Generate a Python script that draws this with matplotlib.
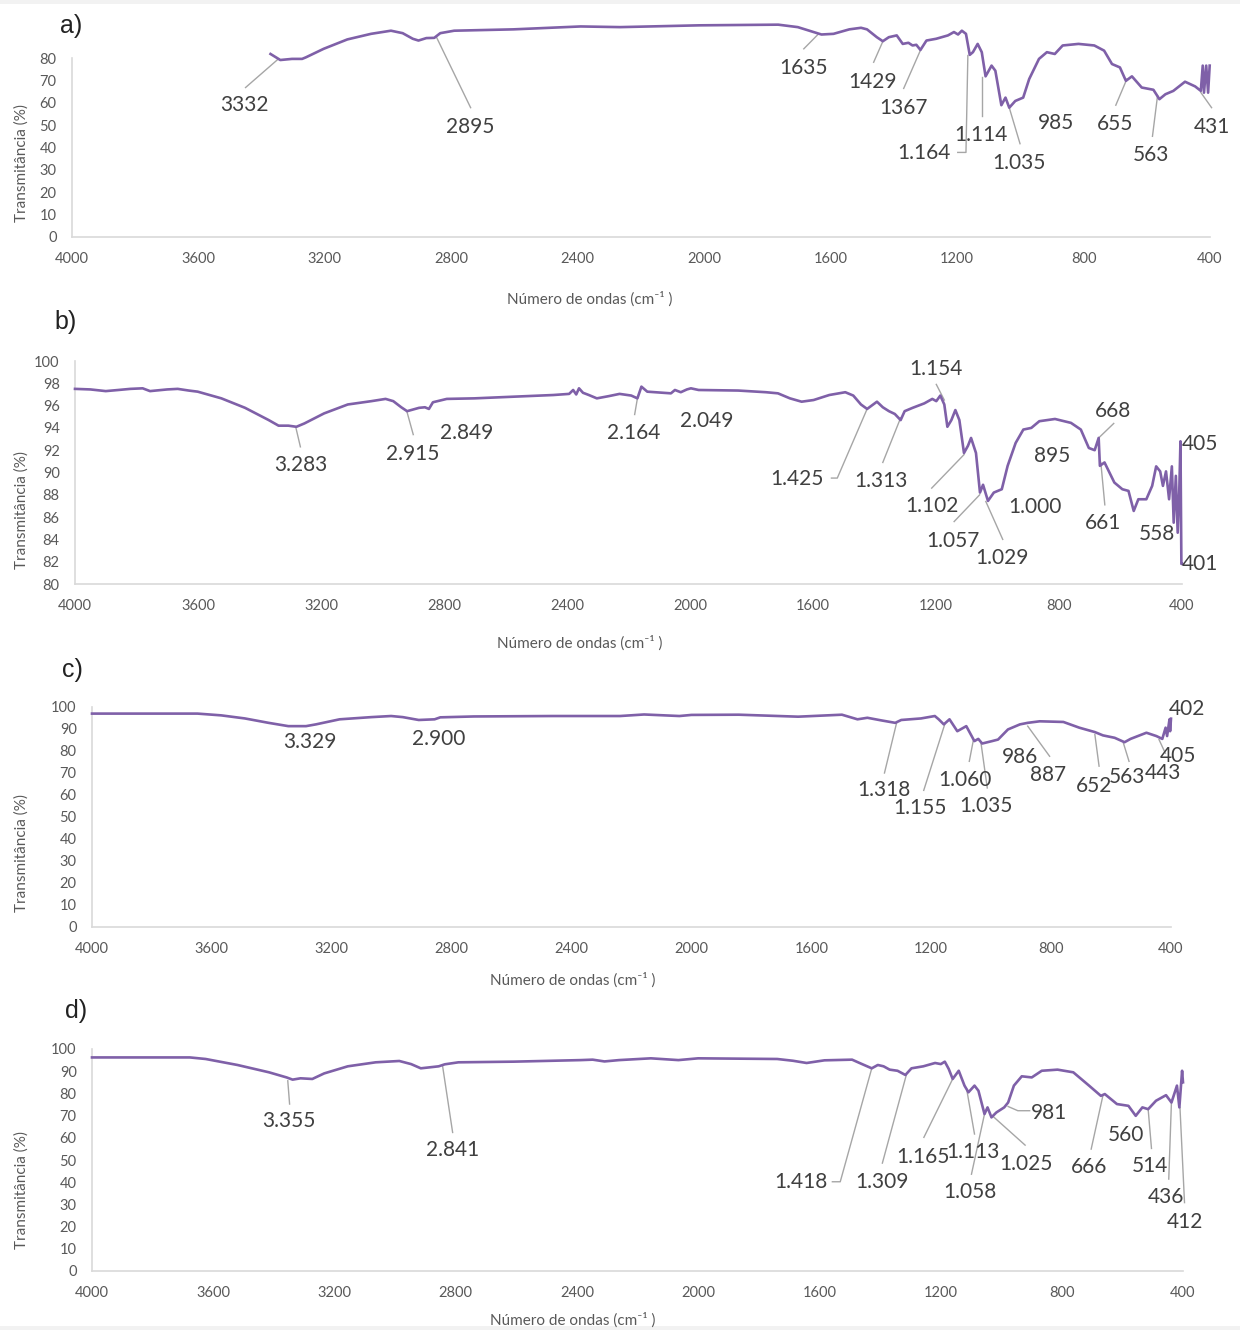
''' espectros FTIR - transmitancia x numero de ondas (paineis a-d) '''

import matplotlib
matplotlib.use('Agg')
import matplotlib.pyplot as plt
from matplotlib.patches import Rectangle

# ---------------- dados ----------------
wn_a = [3372, 3341, 3304, 3272, 3260, 3204, 3129, 3054, 2991, 2954, 2922, 2904, 2879, 2854, 2835,
        2791, 2604, 2391, 2266, 2016, 1766, 1704, 1654, 1629, 1591, 1541, 1504, 1485, 1454, 1435,
        1416, 1391, 1372, 1354, 1341, 1329, 1316, 1297, 1266, 1229, 1210, 1197, 1185, 1172, 1160,
        1150, 1135, 1122, 1110, 1091, 1079, 1060, 1047, 1035, 1016, 991, 972, 941, 916, 891, 866,
        816, 766, 735, 710, 685, 666, 647, 616, 579, 560, 541, 516, 479, 447, 429, 423, 419, 412,
        406, 401]
t_a = [81.8, 79.1, 79.6, 79.6, 80.3, 84.1, 88.3, 90.8, 92.2, 91.1, 88.6, 87.8, 88.9, 89.0, 91.1,
       92.2, 92.8, 94.1, 93.8, 94.6, 94.9, 93.8, 91.6, 90.5, 90.8, 92.8, 93.5, 92.8, 89.3, 87.5,
       89.3, 90.1, 86.3, 86.8, 85.6, 85.9, 83.6, 87.8, 88.6, 90.1, 91.6, 90.5, 92.2, 90.8, 81.4,
       82.6, 86.3, 82.6, 71.8, 76.6, 74.3, 58.9, 62.3, 57.8, 60.8, 62.3, 70.6, 79.6, 82.6, 81.8, 85.6,
       86.3, 85.6, 83.3, 77.3, 75.8, 69.8, 71.8, 66.8, 65.8, 61.6, 63.8, 65.3, 69.4, 67.3, 65.3, 76.6,
       64.5, 76.6, 64.5, 76.6]

wn_b = [4000, 3950, 3900, 3859, 3820, 3780, 3756, 3700, 3666, 3630, 3601, 3524, 3447, 3370, 3338,
        3306, 3280, 3254, 3190, 3113, 3036, 2990, 2965, 2939, 2920, 2907, 2881, 2862, 2849, 2836,
        2791, 2701, 2573, 2444, 2393, 2380, 2370, 2361, 2348, 2329, 2303, 2264, 2229, 2191, 2171,
        2158, 2139, 2062, 2049, 2030, 2010, 1997, 1972, 1843, 1753, 1714, 1675, 1637, 1598, 1547,
        1495, 1469, 1444, 1424, 1392, 1373, 1353, 1334, 1315, 1302, 1276, 1238, 1212, 1199, 1186,
        1173, 1163, 1150, 1137, 1124, 1109, 1096, 1086, 1070, 1057, 1047, 1031, 1012, 986, 967, 941,
        916, 890, 864, 813, 761, 729, 703, 684, 671, 667, 652, 620, 594, 574, 557, 542, 516, 497,
        484, 471, 462, 452, 442, 433, 427, 420, 414, 409, 405, 402, 400.5]
t_b = [97.5, 97.45, 97.3, 97.4, 97.5, 97.55, 97.3, 97.45, 97.5, 97.35, 97.25, 96.65, 95.8, 94.7, 94.2,
       94.2, 94.1, 94.4, 95.3, 96.1, 96.4, 96.6, 96.4, 95.85, 95.5, 95.6, 95.8, 95.85, 95.7, 96.3,
       96.6, 96.65, 96.8, 96.95, 97.05, 97.4, 97.0, 97.55, 97.15, 96.95, 96.65, 96.85, 97.05, 96.9, 96.65,
       97.7, 97.25, 97.1, 97.4, 97.2, 97.45, 97.55, 97.4, 97.35, 97.2, 97.1, 96.65, 96.35, 96.5, 96.95,
       97.2, 96.9, 96.1, 95.7, 96.35, 95.85, 95.5, 95.25, 94.7, 95.5, 95.8, 96.2, 96.6, 96.4, 96.9,
       96.1, 94.1, 94.7, 95.6, 94.7, 91.75, 92.4, 93.1, 91.75, 88.2, 88.9, 87.45, 88.2, 88.5, 90.6, 92.65,
       93.85, 94.0, 94.6, 94.8, 94.45, 93.85, 92.2, 92.0, 93.1, 90.6, 90.9, 89.1, 88.5, 88.35, 86.55, 87.6, 87.6, 88.8,
       90.55, 90.1, 88.8, 90.1, 87.6, 90.55, 85.5, 89.7, 84.6, 88.2, 92.8, 81.8, 81.8]

wn_c = [4000, 3780, 3648, 3569, 3490, 3411, 3345, 3286, 3253, 3174, 3068, 3002, 2963, 2910, 2857,
        2838, 2726, 2462, 2238, 2158, 2040, 2000, 1842, 1644, 1498, 1446, 1413, 1366, 1320, 1300,
        1234, 1188, 1175, 1158, 1139, 1113, 1083, 1056, 1043, 1030, 997, 977, 944, 904, 878, 838,
        759, 706, 654, 627, 588, 555, 535, 482, 449, 429, 418, 413, 405, 403, 400]
t_c = [97.0, 97.0, 97.0, 96.2, 94.8, 92.8, 91.3, 91.3, 92.1, 94.4, 95.4, 95.9, 95.4, 94.1, 94.4,
       95.3, 95.7, 95.9, 95.9, 96.6, 95.9, 96.4, 96.5, 95.6, 96.5, 94.4, 95.1, 93.9, 92.8, 94.1,
       94.8, 95.9, 94.4, 92.1, 94.4, 89.0, 91.3, 84.5, 85.5, 83.4, 84.5, 85.2, 89.8, 92.1, 92.8, 93.5,
       93.2, 90.6, 88.6, 87.1, 86.0, 84.0, 85.5, 88.3, 86.8, 85.5, 90.6, 86.8, 94.4, 89.0, 94.7]

wn_d = [4000, 3677, 3625, 3520, 3416, 3358, 3338, 3312, 3273, 3234, 3156, 3064, 2986, 2947, 2915,
        2895, 2856, 2836, 2791, 2608, 2387, 2348, 2309, 2261, 2156, 2065, 2000, 1739, 1687, 1642,
        1583, 1492, 1459, 1427, 1407, 1388, 1368, 1342, 1316, 1296, 1257, 1218, 1199, 1186, 1173,
        1160, 1140, 1121, 1108, 1088, 1075, 1055, 1045, 1032, 1016, 990, 977, 958, 932, 899, 866,
        814, 762, 710, 671, 658, 618, 580, 556, 534, 515, 489, 456, 438, 420, 412, 403, 400]
t_d = [96.2, 96.2, 95.5, 92.8, 89.5, 87.2, 86.2, 86.8, 86.5, 89.0, 92.2, 94.0, 94.6, 93.2, 91.3,
       91.6, 92.2, 93.1, 94.0, 94.3, 95.0, 95.2, 94.4, 95.0, 95.8, 95.0, 95.8, 95.5, 94.7, 93.7,
       94.9, 95.2, 93.2, 91.3, 92.8, 92.2, 90.7, 90.2, 88.3, 91.3, 92.2, 93.7, 93.2, 94.3, 91.0,
       86.5, 90.2, 83.5, 80.5, 83.5, 81.2, 70.7, 73.7, 69.2, 71.4, 73.7, 75.9, 83.5, 87.7, 87.2, 90.2,
       90.7, 89.5, 83.5, 78.9, 79.7, 75.2, 74.4, 69.9, 73.7, 72.9, 76.7, 79.2, 75.9, 83.5, 73.7, 90.2, 85.0]

# bandas identificadas
picos_a = ['3332', '2895', '1635', '1429', '1367', '1.164', '1.114', '1.035', '985', '655', '563', '431']
picos_b = ['3.283', '2.915', '2.849', '2.164', '2.049', '1.425', '1.313', '1.154', '1.102', '1.057',
           '1.029', '1.000', '895', '668', '661', '558', '405', '401']
picos_c = ['3.329', '2.900', '1.318', '1.155', '1.060', '1.035', '986', '887', '652', '563', '443', '405', '402']
picos_d = ['3.355', '2.841', '1.418', '1.309', '1.165', '1.113', '1.058', '1.025', '981', '666', '560',
           '514', '436', '412']

yticks_a = list(range(0, 81, 10))
yticks_b = list(range(80, 101, 2))
yticks_c = list(range(0, 101, 10))
yticks_d = list(range(0, 101, 10))
xticks = [4000, 3600, 3200, 2800, 2400, 2000, 1600, 1200, 800, 400]

# ---------------- posicao dos rotulos (x, y) e linhas guia ----------------
pos_a = [(3456, 58.8), (2740, 49.1), (1686, 75.5), (1467, 69.4), (1370, 57.6), (1305, 37.7),
         (1123, 45.4), (1003, 33.2), (888, 50.9), (700, 50.7), (587, 36.7), (395, 49.1)]
guia_a = [[(3347, 79.6), (3451, 66.8)], [(2847, 89.3), (2739, 57.8)], [(1641, 90.4), (1685, 84.1)],
          [(1435, 87.4), (1464, 78.1)], [(1314, 84.1), (1369, 66.4)],
          [(1166, 81.1), (1172, 37.8), (1198, 37.8)], [(1120, 71.3), (1120, 54)],
          [(1035, 57.8), (1001, 41.7)], None, [(663, 70.6), (698, 58.9)], [(566, 63.1), (582, 45)],
          [(429, 64.6), (395, 57.8)]]

pos_b = [(3267, 90.7), (2903, 91.7), (2727, 93.5), (2182, 93.5), (1947, 94.6), (1651, 89.4),
         (1379, 89.2), (1200, 99.3), (1214, 87.0), (1145, 83.9), (985, 82.3), (877, 86.9),
         (821, 91.5), (623, 95.5), (656, 85.5), (480, 84.5), (340, 92.6), (340, 81.8)]
guia_b = [[(3282, 94.06), (3267, 92.3)], [(2920, 95.4), (2900, 93.4)], None,
          [(2171, 96.65), (2180, 95.2)], None, [(1424, 95.7), (1521, 89.5), (1540, 89.5)],
          [(1315, 94.9), (1373, 90.9)], [(1199, 97.9), (1173, 96.5)], [(1109, 91.6), (1214, 88.6)],
          [(1058, 88.0), (1141, 85.6)], [(1038, 87.4), (983, 84.0)], None, None,
          [(671, 93.1), (622, 94.4)], [(664, 90.9), (651, 87.1)], None, None, None]

pos_c = [(3272, 84.0), (2843, 85.3), (1358, 62.1), (1237, 54.0), (1088, 67.0), (1017, 55.0),
         (905, 77.2), (811, 69.2), (656, 64.3), (547, 68.0), (427, 69.8), (378, 77.8), (348, 99.0)]
guia_c = [None, None, [(1316, 92.5), (1356, 70.0)], [(1155, 92.1), (1225, 62.1)],
          [(1060, 84.5), (1073, 75.3)], [(1034, 83.7), (1013, 63.2)], None,
          [(878, 91.3), (805, 77.6)], [(654, 87.5), (640, 73.1)], [(559, 83.7), (540, 75.3)],
          None, [(440, 85.2), (419, 79.0)], None]

pos_d = [(3350, 67.5), (2810, 54.4), (1660, 40.0), (1395, 40.0), (1259, 51.5), (1092, 53.5),
         (1102, 35.6), (919, 48.4), (842, 71.3), (710, 47.0), (587, 61.1), (508, 47.5), (455, 33.4),
         (395, 22.0)]
guia_d = [[(3354, 85.7), (3348, 75.2)], [(2843, 92.2), (2810, 62.4)],
          [(1427, 91.3), (1531, 40.2), (1557, 40.2)], [(1313, 88.3), (1392, 48.6)],
          [(1160, 86.5), (1255, 60.2)], [(1114, 82.0), (1088, 61.7)], [(1055, 70.7), (1098, 43.6)],
          [(1029, 69.9), (921, 56.7)], [(977, 74.1), (945, 72.2), (906, 72.2)],
          [(664, 79.2), (703, 54.9)], None, [(515, 72.9), (504, 55.2)], [(438, 76.7), (447, 41.4)],
          [(410, 73.7), (395, 30.8)]]

# ---------------- figura ----------------
W, H = 1240, 1330
fig = plt.figure(figsize=(W / 100, H / 100), dpi=100, facecolor='#f2f2f2')
fig.patches.append(Rectangle((0, 4 / H), 1, (H - 8) / H, transform=fig.transFigure,
                             facecolor='white', edgecolor='none', zorder=-10))

roxo = '#7f60a8'
cinza_txt = '#595959'
fonte = ['Lato', 'DejaVu Sans']

# (x0, x1, y da base, y do topo) em pixels, letra, ylabel y, xlabel (x, y)
paineis = [
    (72, 1210, 237, 58, 'a)', (71, 26), 163, (590, 299), wn_a, t_a, (0, 80), yticks_a, picos_a, pos_a, guia_a),
    (75, 1182, 584, 361, 'b)', (66, 322), 510, (580, 643), wn_b, t_b, (80, 100), yticks_b, picos_b, pos_b, guia_b),
    (92, 1171, 927, 707, 'c)', (72, 670), 853, (573, 980), wn_c, t_c, (0, 100), yticks_c, picos_c, pos_c, guia_c),
    (92, 1183, 1271, 1049, 'd)', (76, 1011), 1190, (573, 1320), wn_d, t_d, (0, 100), yticks_d, picos_d, pos_d, guia_d),
]

for (x0, x1, yb, yt, letra, lpos, ylab_y, xlab_pos, wn, tr, ylim, yticks, picos, pos, guia) in paineis:
    ax = fig.add_axes([x0 / W, 1 - yb / H, (x1 - x0) / W, (yb - yt) / H])
    ax.set_facecolor('none')
    ax.plot(wn, tr, color=roxo, lw=1.9, clip_on=False, zorder=3)
    ax.set_xlim(4000, 400)
    ax.set_ylim(*ylim)
    ax.set_xticks(xticks)
    ax.set_yticks(yticks)
    for s in ['top', 'right']:
        ax.spines[s].set_visible(False)
    for s in ['left', 'bottom']:
        ax.spines[s].set_color('#d9d9d9')
        ax.spines[s].set_linewidth(1.2)
    ax.tick_params(length=0, labelsize=10.5, labelcolor=cinza_txt)
    ax.tick_params(axis='x', pad=11)
    ax.tick_params(axis='y', pad=11)
    for lab in ax.get_xticklabels() + ax.get_yticklabels():
        lab.set_family(fonte)

    for txt, (px, py), g in zip(picos, pos, guia):
        if g is not None:
            gx = [p[0] for p in g]
            gy = [p[1] for p in g]
            ax.plot(gx, gy, color='#a6a6a6', lw=1, clip_on=False, zorder=2)
        ax.text(px, py, txt, fontsize=15, color='#404040', family=fonte,
                ha='center', va='center', clip_on=False, zorder=4)

    fig.text(lpos[0] / W, 1 - lpos[1] / H, letra, fontsize=18, color='#222222',
             family=['Liberation Sans', 'DejaVu Sans'], ha='center', va='center')
    fig.text(22 / W, 1 - ylab_y / H, 'Transmitância (%)', rotation=90, fontsize=11,
             color=cinza_txt, family=fonte, ha='center', va='center')
    fig.text(xlab_pos[0] / W, 1 - xlab_pos[1] / H, 'Número de ondas (cm\u207b\u00b9 )', fontsize=11,
             color=cinza_txt, family=fonte, ha='center', va='center')

plt.savefig('out.png', dpi=100, facecolor=fig.get_facecolor())
